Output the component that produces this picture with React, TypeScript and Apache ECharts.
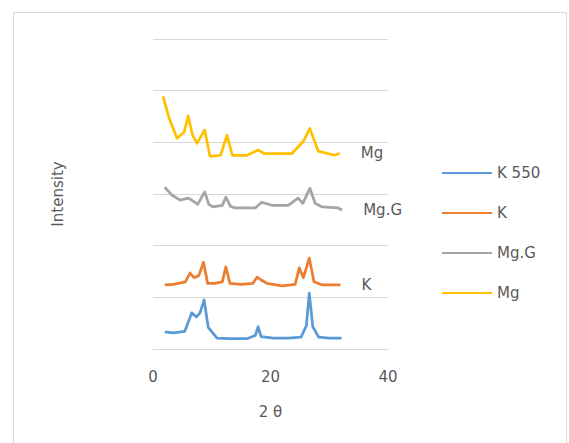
import React, { useEffect, useRef } from "react";
import * as echarts from "echarts";

// Diffraction patterns: [2θ (degrees), stacked intensity]
const k550Pattern: [number, number][] = [
  [2.0, 0.33], [3.5, 0.31], [5.4, 0.34], [6.0, 0.52], [6.6, 0.70], [7.4, 0.62],
  [8.0, 0.70], [8.7, 0.95], [9.4, 0.42], [10.9, 0.21], [13.0, 0.20], [16.0, 0.20],
  [17.4, 0.26], [17.9, 0.43], [18.4, 0.24], [20.5, 0.21], [23.0, 0.21], [25.2, 0.23],
  [26.1, 0.45], [26.6, 1.08], [27.2, 0.43], [28.2, 0.23], [30.0, 0.21], [32.1, 0.21],
];

const kPattern: [number, number][] = [
  [2.0, 1.24], [3.5, 1.25], [5.5, 1.30], [6.3, 1.47], [7.0, 1.38], [7.8, 1.42],
  [8.6, 1.68], [9.3, 1.27], [10.5, 1.27], [11.8, 1.30], [12.4, 1.59], [13.1, 1.27],
  [15.0, 1.25], [17.0, 1.27], [17.7, 1.39], [18.5, 1.33], [19.4, 1.27], [22.0, 1.22],
  [24.2, 1.25], [24.9, 1.57], [25.6, 1.38], [26.6, 1.76], [27.4, 1.30], [28.8, 1.24],
  [31.9, 1.24],
];

const mgGPattern: [number, number][] = [
  [2.0, 3.13], [3.2, 2.98], [4.6, 2.88], [6.0, 2.92], [6.6, 2.88], [7.6, 2.80],
  [8.8, 3.04], [9.5, 2.80], [10.2, 2.75], [11.8, 2.78], [12.4, 2.94], [13.2, 2.76],
  [14.0, 2.73], [17.4, 2.73], [18.5, 2.84], [20.3, 2.78], [23.0, 2.78], [24.7, 2.92],
  [25.5, 2.82], [26.7, 3.11], [27.6, 2.82], [28.8, 2.75], [31.5, 2.73], [32.2, 2.69],
];

const mgPattern: [number, number][] = [
  [1.7, 4.89], [2.8, 4.45], [4.1, 4.08], [5.3, 4.20], [6.0, 4.51], [6.7, 4.15],
  [7.5, 3.98], [8.8, 4.24], [9.7, 3.73], [11.5, 3.75], [12.6, 4.14], [13.5, 3.75],
  [16.0, 3.75], [17.9, 3.85], [19.0, 3.78], [23.6, 3.78], [25.6, 4.02], [26.7, 4.27],
  [28.1, 3.83], [30.9, 3.75], [31.8, 3.79],
];

const seriesNames = ["K 550", "K", "Mg.G", "Mg"];
const seriesColors = ["#5B9BD5", "#ED7D31", "#A5A5A5", "#FFC000"];
const patterns = [k550Pattern, kPattern, mgGPattern, mgPattern];
const endLabelShown = [false, true, true, true];

const xTicks = { min: 0, max: 40, interval: 20 };
const yTicks = { min: 0, max: 6, interval: 1 };

const FONT = "DejaVu Sans";
const TEXT = "#595959";
const GRID = "#D9D9D9";

export default function App() {
  const ref = useRef<HTMLDivElement>(null);

  useEffect(() => {
    if (!ref.current) return;
    const chart = echarts.init(ref.current, undefined, { renderer: "svg" });
    chart.setOption({
      animation: false,
      backgroundColor: "#ffffff",
      color: seriesColors,
      textStyle: { fontFamily: FONT, color: TEXT },
      graphic: [
        {
          type: "rect",
          shape: { x: 13.5, y: 12.5, width: 553, height: 440 },
          style: { fill: "none", stroke: "#D9D9D9", lineWidth: 1 },
          silent: true,
        },
      ],
      grid: { left: 153, right: 181, top: 39, bottom: 94 },
      xAxis: {
        type: "value",
        ...xTicks,
        name: "2 θ",
        nameLocation: "middle",
        nameGap: 55,
        nameTextStyle: { fontFamily: FONT, fontSize: 15, color: TEXT },
        axisLine: { show: true, lineStyle: { color: GRID } },
        axisTick: { show: false },
        splitLine: { show: false },
        axisLabel: { fontFamily: FONT, fontSize: 15, color: TEXT, margin: 20 },
      },
      yAxis: {
        type: "value",
        ...yTicks,
        name: "Intensity",
        nameLocation: "middle",
        nameRotate: 90,
        nameGap: 88,
        nameTextStyle: { fontFamily: FONT, fontSize: 15, color: TEXT },
        axisLine: { show: false },
        axisTick: { show: false },
        axisLabel: { show: false },
        splitLine: { show: true, lineStyle: { color: GRID, width: 1 } },
      },
      legend: {
        orient: "vertical",
        left: 437,
        top: 160,
        icon: "rect",
        itemWidth: 50,
        itemHeight: 2,
        itemGap: 24,
        data: seriesNames,
        textStyle: { fontFamily: FONT, fontSize: 15, color: TEXT, lineHeight: 16 },
      },
      series: seriesNames.map((name, i) => ({
        name,
        type: "line",
        data: patterns[i],
        showSymbol: false,
        symbol: "none",
        lineStyle: { width: 2.75, color: seriesColors[i], join: "round" },
        itemStyle: { color: seriesColors[i] },
        endLabel: {
          show: endLabelShown[i],
          formatter: "{a}",
          distance: 21,
          fontFamily: FONT,
          fontSize: 15,
          color: TEXT,
        },
      })),
    });
    return () => chart.dispose();
  }, []);

  return (
    <div
      ref={ref}
      style={{ position: "fixed", left: 0, top: 0, width: 569, height: 443 }}
    />
  );
}
